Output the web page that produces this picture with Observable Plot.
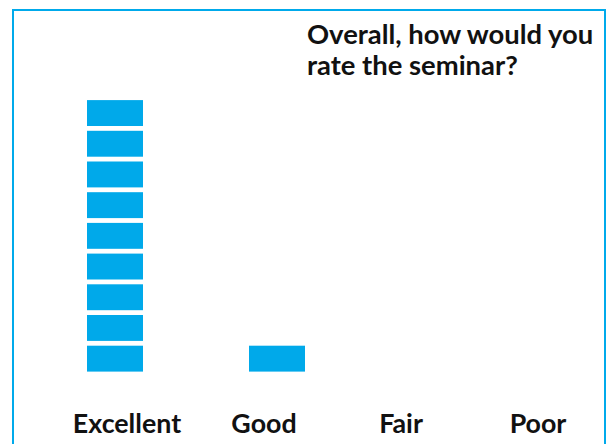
<!DOCTYPE html>
<html>
<head>
<meta charset="utf-8">
<script src="https://cdn.jsdelivr.net/npm/d3@7"></script>
<script src="https://cdn.jsdelivr.net/npm/@observablehq/plot@0.6"></script>
<style>
  html, body { margin: 0; padding: 0; background: #fff; }
  #wrap { position: relative; width: 611px; height: 444px; overflow: hidden; }
  #chart, #labels { position: absolute; left: 0; top: 0; }
  #box { position: absolute; left: 12px; top: 9px; width: 590px; height: 460px;
         border: 2.5px solid #00AAEB; box-sizing: content-box; pointer-events: none; }
  #title { position: absolute; left: 307px; top: 18px; font-family: Lato, sans-serif;
           font-weight: bold; font-size: 27.4px; line-height: 31px; color: #111; }
  svg { display: block; }
</style>
</head>
<body>
<div id="wrap">
  <div id="chart"></div>
  <div id="labels"></div>
  <div id="box"></div>
  <div id="title">Overall, how would you<br>rate the seminar?</div>
</div>
<script>
const categories = ["Excellent", "Good", "Fair", "Poor"];
const counts = [9, 1, 0, 0];
const titleText = "Overall, how would you rate the seminar?";

// one record per response (unit block)
const units = [];
categories.forEach((c, i) => {
  for (let k = 0; k < counts[i]; k++) units.push({category: c, k});
});

const chart = Plot.plot({
  width: 611,
  height: 444,
  marginLeft: 0,
  marginRight: 0,
  marginTop: 67,
  marginBottom: 70,
  style: {fontFamily: "Lato, sans-serif", background: "transparent", overflow: "visible"},
  x: {type: "band", domain: categories, padding: 0, range: [34, 682], axis: null},
  y: {domain: [0, 10], axis: null},
  marks: [
    Plot.rect(units, {
      x: "category",
      y1: "k",
      y2: d => d.k + 1,
      fill: "#00A9EA",
      insetTop: 2.4,
      insetBottom: 2.4,
      insetLeft: 53,
      insetRight: 53
    })
  ]
});
document.getElementById("chart").appendChild(chart);

// category labels along the bottom
const labels = Plot.plot({
  width: 611,
  height: 444,
  marginLeft: 56,
  marginRight: 4,
  marginTop: 0,
  marginBottom: 31,
  style: {fontFamily: "Lato, sans-serif", background: "transparent", overflow: "visible"},
  x: {type: "band", domain: categories, padding: 0, label: null},
  y: {domain: [0, 1], axis: null},
  marks: [
    Plot.axisX({
      tickSize: 0,
      tickPadding: 0,
      fontSize: 26.8,
      fontWeight: "bold",
      fill: "#111",
      label: null
    })
  ]
});
document.getElementById("labels").appendChild(labels);
</script>
</body>
</html>
